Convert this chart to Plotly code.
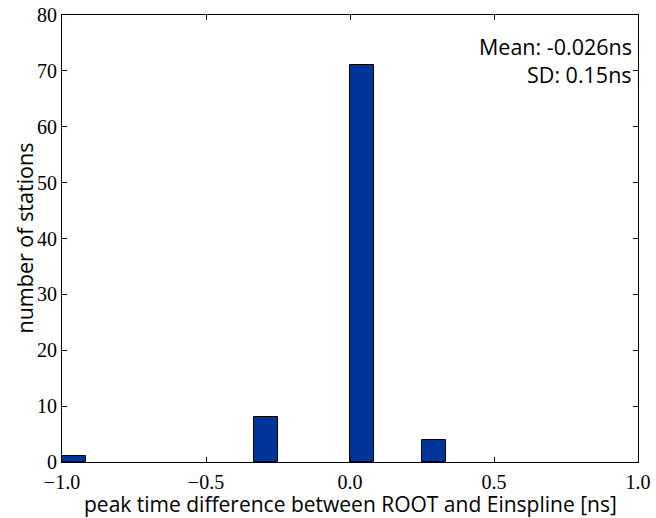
import plotly.graph_objects as go

# Histogram of peak-time differences: 24 bins of width 1/12 ns between -1 and 1 ns
bin_start = -1.0
bin_width = 1.0 / 12.0
counts = [1, 0, 0, 0, 0, 0, 0, 0, 8, 0, 0, 0,
          71, 0, 0, 4, 0, 0, 0, 0, 0, 0, 0, 0]

x_tick_vals = [-1.0, -0.5, 0.0, 0.5, 1.0]
x_tick_text = ["\u22121.0", "\u22120.5", "0.0", "0.5", "1.0"]
y_tick_vals = [0, 10, 20, 30, 40, 50, 60, 70, 80]

x_title = "peak time difference between ROOT and Einspline [ns]"
y_title = "number of stations"
mean_text = "Mean: -0.026ns"
sd_text = "SD: 0.15ns"

# only bins that hold entries get a bar (empty bins draw nothing)
centers = [bin_start + (i + 0.5) * bin_width for i, c in enumerate(counts) if c > 0]
heights = [c for c in counts if c > 0]

serif = "Liberation Serif, DejaVu Serif, serif"
sans = "Open Sans, DejaVu Sans, sans-serif"
label_size = 21.5

W, H = 656, 518
ML, MR, MT, MB = 62, 18, 15, 56

fig = go.Figure(
    go.Bar(
        x=centers,
        y=heights,
        width=bin_width,
        marker=dict(color="#013499", line=dict(color="black", width=1)),
    )
)

axis_common = dict(
    showline=True, linecolor="black", linewidth=1, mirror="ticks",
    ticks="inside", ticklen=5, tickwidth=1, tickcolor="black",
    showgrid=False, zeroline=False, automargin=False,
    tickfont=dict(family=serif, size=20, color="black"),
)

fig.update_xaxes(range=[-1.0, 1.0], tickvals=x_tick_vals, ticktext=x_tick_text,
                 ticklabelstandoff=2, **axis_common)
fig.update_yaxes(range=[0, 80], tickvals=y_tick_vals, **axis_common)

plot_h = H - MT - MB
plot_w = W - ML - MR

# axis titles placed in paper coordinates
fig.add_annotation(
    x=0.5, y=-(504 - (H - MB)) / plot_h, xref="paper", yref="paper",
    xanchor="center", yanchor="middle", text=x_title, showarrow=False,
    font=dict(family=sans, size=21, color="black"),
)
fig.add_annotation(
    x=-(ML - 24) / plot_w, y=0.5, xref="paper", yref="paper",
    xanchor="center", yanchor="middle", text=y_title, showarrow=False,
    textangle=-90, font=dict(family=sans, size=label_size, color="black"),
)

# summary statistics in the upper right corner
fig.add_annotation(
    x=0.993, y=0.930, xref="paper", yref="paper", xanchor="right", yanchor="middle",
    text=mean_text, showarrow=False, align="right",
    font=dict(family=sans, size=label_size, color="black"),
)
fig.add_annotation(
    x=0.993, y=0.868, xref="paper", yref="paper", xanchor="right", yanchor="middle",
    text=sd_text, showarrow=False, align="right",
    font=dict(family=sans, size=label_size, color="black"),
)

fig.update_layout(
    width=W, height=H,
    margin=dict(l=ML, r=MR, t=MT, b=MB, autoexpand=False),
    plot_bgcolor="white", paper_bgcolor="white",
    showlegend=False, bargap=0,
)

fig.write_html("out.html")
